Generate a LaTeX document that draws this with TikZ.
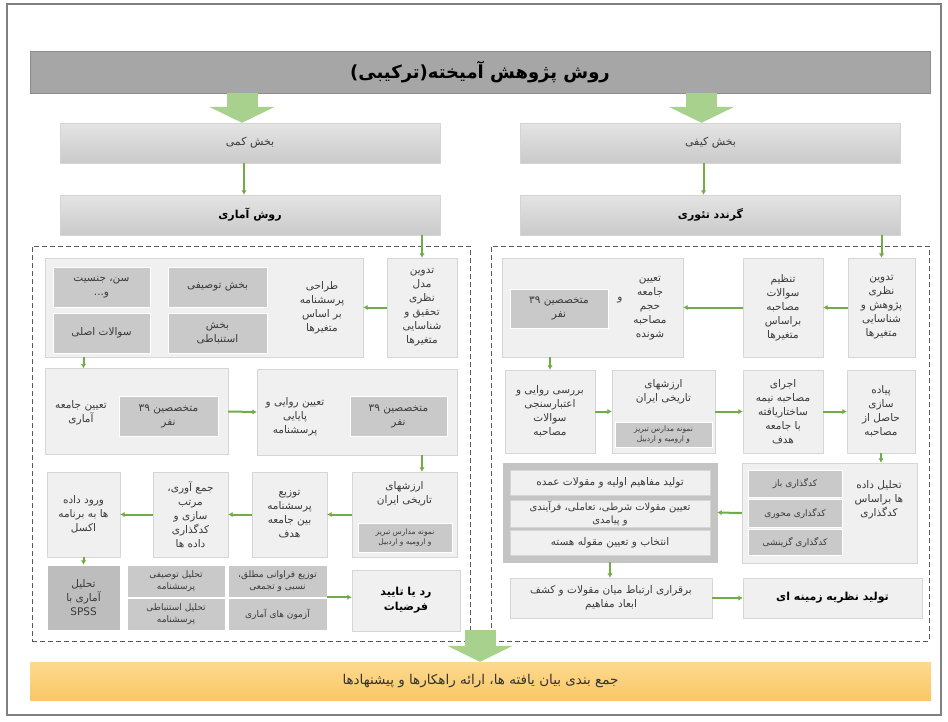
\documentclass[tikz,border=0pt]{standalone}
\usepackage{fontspec}
\usetikzlibrary{arrows.meta,calc}
\TeXXeTstate=1
\newfontfamily\farsi[Script=Arabic]{DejaVu Sans}
\newcommand{\frs}[1]{\beginR #1\endR}

\definecolor{titleFill}{HTML}{A6A6A6}
\definecolor{titleLine}{HTML}{8C8C8C}
\definecolor{partTop}{HTML}{E4E4E4}
\definecolor{partBot}{HTML}{CACACA}
\definecolor{partLine}{HTML}{D4D4D4}
\definecolor{lightFill}{HTML}{F0F0F0}
\definecolor{lightLine}{HTML}{D6D6D6}
\definecolor{darkFill}{HTML}{C9C9C9}
\definecolor{spssFill}{HTML}{BDBDBD}
\definecolor{catFill}{HTML}{C4C4C4}
\definecolor{flowGreen}{HTML}{70AD47}
\definecolor{bigGreen}{HTML}{A9D18E}
\definecolor{regionLine}{HTML}{595959}
\definecolor{bandTop}{HTML}{FDD98F}
\definecolor{bandBot}{HTML}{F9C866}
\definecolor{frameLine}{HTML}{808080}
\definecolor{textGray}{HTML}{3A3A3A}

\begin{document}
\begin{tikzpicture}
    [
        x=1pt, y=-1pt,
        every node/.style = {font=\farsi\fontsize{10.5}{14}\selectfont, text=textGray, align=center, inner sep=1pt},
        wh/.style 2 args = {minimum width=#1pt, minimum height=#2pt},
        title/.style = {draw=titleLine, fill=titleFill, minimum width=900pt, minimum height=42pt, text=black, font=\farsi\bfseries\fontsize{18}{20}\selectfont},
        partbox/.style = {draw=partLine, top color=partTop, bottom color=partBot, minimum width=380pt, minimum height=40pt, font=\farsi\fontsize{11}{13}\selectfont},
        bold/.style = {text=black, font=\farsi\bfseries\fontsize{11}{15}\selectfont},
        small/.style = {font=\farsi\fontsize{9}{12}\selectfont},
        tiny/.style = {font=\farsi\fontsize{7.5}{10}\selectfont},
        light/.style = {draw=lightLine, fill=lightFill},
        dark/.style = {draw=white, fill=darkFill},
        region/.style = {draw=regionLine, line width=1pt, dash pattern=on 5pt off 3pt},
        band/.style = {top color=bandTop, bottom color=bandBot, minimum width=901pt, minimum height=38pt, text=black!80, font=\farsi\fontsize{13.5}{15}\selectfont},
        flow/.style = {draw=flowGreen, line width=2pt, -{Latex[length=4.5pt,width=5.5pt]}},
        bigarrow/.style = {draw=bigGreen, line width=31pt, -{Triangle[width=65pt,length=16pt]}},
    ]

    \useasboundingbox (0,0) rectangle (948,721);
    \draw[frameLine, line width=1.5pt] (7,4) rectangle (941,715);

    \node[title] (title) at (480,72) {\frs{روش پژوهش آمیخته(ترکیبی)}};

    \node[partbox] (kmi) at (250,143) {\frs{بخش کمی}};
    \node[partbox] (kyf) at (710.5,143) {\frs{بخش کیفی}};
    \node[partbox, bold] (amr) at (250,215) {\frs{روش آماری}};
    \node[partbox, bold] (grt) at (710.5,215) {\frs{گرندد تئوری}};

    \node[region, wh={438}{395}] (lreg) at (251,443.5) {};
    \node[region, wh={438}{395}] (rreg) at (710,443.5) {};

    % quantitative part
    \node[light, wh={70}{99}] (lmodel) at (422,307.5) {\frs{تدوین}\\\frs{مدل}\\\frs{نظری}\\\frs{تحقیق و}\\\frs{شناسایی}\\\frs{متغیرها}};
    \node[light, wh={318}{99}] (ldesign) at (204,307.5) {};
    \node (ldesignt) at (322,308) {\frs{طراحی}\\\frs{پرسشنامه}\\\frs{بر اساس}\\\frs{متغیرها}};
    \node[dark, wh={97}{40}] (lage) at (101.5,287) {\frs{سن، جنسیت}\\\frs{و...}};
    \node[dark, wh={99}{40}] (ldesc) at (217.5,287) {\frs{بخش توصیفی}};
    \node[dark, wh={97}{40}] (lmain) at (101.5,333) {\frs{سوالات اصلی}};
    \node[dark, wh={99}{40}] (linfer) at (217.5,333) {\frs{بخش}\\\frs{استنباطی}};

    \node[light, wh={183}{86}] (lpop) at (136.5,411.5) {};
    \node (lpopt) at (81,413) {\frs{تعیین جامعه}\\\frs{آماری}};
    \node[dark, wh={99}{40}] (lexp1) at (168.5,416) {\frs{متخصصین ۳۹}\\\frs{نفر}};
    \node[light, wh={200}{86}] (lrel) at (357,412) {};
    \node (lrelt) at (295,417) {\frs{تعیین روایی و}\\\frs{پایایی}\\\frs{پرسشنامه}};
    \node[dark, wh={97}{40}] (lexp2) at (398.5,416) {\frs{متخصصین ۳۹}\\\frs{نفر}};

    \node[light, wh={105}{85}] (lhist) at (404.5,514.5) {};
    \node (lhistt) at (404.5,494) {\frs{ارزشهای}\\\frs{تاریخی ایران}};
    \node[dark, tiny, wh={94}{29}] (lsample) at (405,537.5) {\frs{نمونه مدارس تبریز}\\\frs{و ارومیه و اردبیل}};
    \node[light, wh={75}{85}] (ldist) at (289.5,514.5) {\frs{توزیع}\\\frs{پرسشنامه}\\\frs{بین جامعه}\\\frs{هدف}};
    \node[light, wh={75}{85}] (lcoll) at (190.5,514.5) {\frs{جمع آوری،}\\\frs{مرتب}\\\frs{سازی و}\\\frs{کدگذاری}\\\frs{داده ها}};
    \node[light, wh={73}{85}] (lexcel) at (83.5,514.5) {\frs{ورود داده}\\\frs{ها به برنامه}\\\frs{اکسل}};

    \node[dark, fill=spssFill, wh={73}{65}] (lspss) at (83.5,597.5) {\frs{تحلیل}\\\frs{آماری با}\\SPSS};
    \node[dark, small, wh={98}{32}] (ldescan) at (176,581) {\frs{تحلیل توصیفی}\\\frs{پرسشنامه}};
    \node[dark, small, wh={99}{32}] (lfreq) at (277.5,581) {\frs{توزیع فراوانی مطلق،}\\\frs{نسبی و تجمعی}};
    \node[dark, small, wh={98}{32}] (linfan) at (176,614) {\frs{تحلیل استنباطی}\\\frs{پرسشنامه}};
    \node[dark, small, wh={99}{32}] (ltests) at (277.5,614) {\frs{آزمون های آماری}};
    \node[light, bold, wh={108}{61}] (lhyp) at (406,600.5) {\frs{رد یا تایید}\\\frs{فرضیات}};

    % qualitative part
    \node[light, wh={67}{99}] (rtheory) at (881.5,307.5) {\frs{تدوین}\\\frs{نظری}\\\frs{پژوهش و}\\\frs{شناسایی}\\\frs{متغیرها}};
    \node[light, wh={80}{99}] (rquest) at (783,307.5) {\frs{تنظیم}\\\frs{سوالات}\\\frs{مصاحبه}\\\frs{براساس}\\\frs{متغیرها}};
    \node[light, wh={181}{99}] (rsize) at (592.5,307.5) {};
    \node (rsizet) at (650,308) {\frs{تعیین}\\\frs{جامعه}\\\frs{حجم}\\\frs{مصاحبه}\\\frs{شونده}};
    \node (rand) at (620,300) {\frs{و}};
    \node[dark, wh={98}{39}] (rexp) at (559,308.5) {\frs{متخصصین ۳۹}\\\frs{نفر}};

    \node[light, wh={90}{83}] (rvalid) at (550,411.5) {\frs{بررسی روایی و}\\\frs{اعتبارسنجی}\\\frs{سوالات}\\\frs{مصاحبه}};
    \node[light, wh={103}{83}] (rhist) at (663.5,411.5) {};
    \node (rhistt) at (663.5,392) {\frs{ارزشهای}\\\frs{تاریخی ایران}};
    \node[dark, tiny, wh={97}{25}] (rsample) at (663.5,434.5) {\frs{نمونه مدارس تبریز}\\\frs{و ارومیه و اردبیل}};
    \node[light, wh={80}{83}] (rinterv) at (783,411.5) {\frs{اجرای}\\\frs{مصاحبه نیمه}\\\frs{ساختاریافته}\\\frs{با جامعه}\\\frs{هدف}};
    \node[light, wh={68}{83}] (rimpl) at (881,411.5) {\frs{پیاده}\\\frs{سازی}\\\frs{حاصل از}\\\frs{مصاحبه}};

    \node[light, wh={175}{100}] (rcode) at (829.5,513) {};
    \node (rcodet) at (879,500) {\frs{تحلیل داده}\\\frs{ها براساس}\\\frs{کدگذاری}};
    \node[dark, small, wh={94}{27}] (ropen) at (795,483.5) {\frs{کدگذاری باز}};
    \node[dark, small, wh={94}{28}] (raxial) at (795,513.5) {\frs{کدگذاری محوری}};
    \node[dark, small, wh={94}{26}] (rselect) at (795,542.5) {\frs{کدگذاری گزینشی}};
    \node[fill=catFill, draw=catFill, wh={214}{99}] (rcat) at (610,512.5) {};
    \node[light, wh={200}{25}] (rc1) at (610,482.5) {\frs{تولید مفاهیم اولیه و مقولات عمده}};
    \node[light, wh={200}{27}, font=\farsi\fontsize{10}{12.5}\selectfont] (rc2) at (610,513.5) {\frs{تعیین مقولات شرطی، تعاملی، فرآیندی}\\\frs{و پیامدی}};
    \node[light, wh={200}{25}] (rc3) at (610,542.5) {\frs{انتخاب و تعیین مقوله هسته}};

    \node[light, wh={202}{40}] (rlink) at (611,598) {\frs{برقراری ارتباط میان مقولات و کشف}\\\frs{ابعاد مفاهیم}};
    \node[light, bold, wh={179}{40}] (rground) at (832.5,598) {\frs{تولید نظریه زمینه ای}};

    \node[band] (band) at (480.5,681) {\frs{جمع بندی بیان یافته ها، ارائه راهکارها و پیشنهادها}};

    \draw[bigarrow] ($(title.south -| kmi)+(-8,0)$) -- ($(kmi.north)+(-8,0)$);
    \draw[bigarrow] ($(title.south -| kyf)+(-9,0)$) -- ($(kyf.north)+(-9,0)$);
    \draw[flow] ($(kmi.south)+(-6,0)$) -- ($(amr.north)+(-6,0)$);
    \draw[flow] ($(kyf.south)+(-7,0)$) -- ($(grt.north)+(-7,0)$);

    \draw[flow] (amr.south -| lmodel) -- (lmodel.north);
    \draw[flow] (lmodel.west) -- (ldesign.east);
    \draw[flow] (ldesign.south -| lexcel) -- (lpop.north -| lexcel);
    \draw[flow] (lpop.east) -- (lrel.west);
    \draw[flow] (lrel.south -| lmodel) -- (lhist.north -| lmodel);
    \draw[flow] (lhist.west) -- (ldist.east);
    \draw[flow] (ldist.west) -- (lcoll.east);
    \draw[flow] (lcoll.west) -- (lexcel.east);
    \draw[flow] (lexcel.south) -- (lspss.north);
    \draw[flow] (lfreq.south east) -- (lhyp.west |- lfreq.south east);

    \draw[flow] (grt.south -| rtheory) -- (rtheory.north);
    \draw[flow] (rtheory.west) -- (rquest.east);
    \draw[flow] (rquest.west) -- (rsize.east);
    \draw[flow] (rsize.south -| rvalid) -- (rvalid.north);
    \draw[flow] (rvalid.east) -- (rhist.west);
    \draw[flow] (rhist.east) -- (rinterv.west);
    \draw[flow] (rinterv.east) -- (rimpl.west);
    \draw[flow] (rimpl.south) -- (rcode.north -| rimpl);
    \draw[flow] (rcode.west) -- (rcat.east);
    \draw[flow] (rcat.south) -- (rlink.north -| rcat);
    \draw[flow] (rlink.east) -- (rground.west);

    \coordinate (merge) at (480,630);
    \draw[bigarrow] (merge) -- (band.north -| merge);
\end{tikzpicture}
\end{document}
